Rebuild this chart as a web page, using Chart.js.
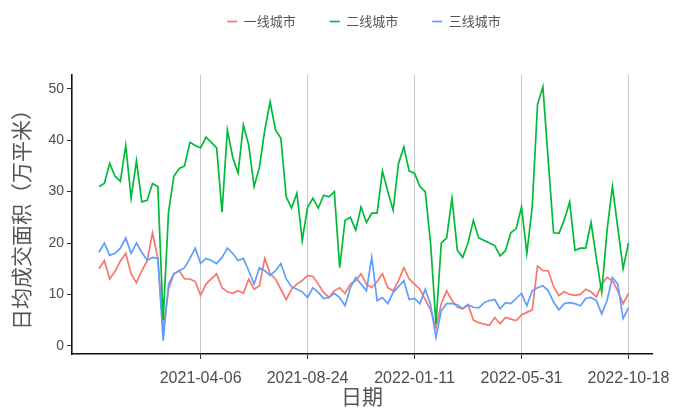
<!DOCTYPE html>
<html><head><meta charset="utf-8">
<script src="https://cdn.jsdelivr.net/npm/chart.js@4/dist/chart.umd.min.js"></script>
<style>html,body{margin:0;padding:0;background:#fff}#wrap{width:673px;height:409px;position:relative}</style>
</head><body><div id="wrap"><canvas id="c"></canvas></div>
<script>
const startDate = '2020-11-24';
const seriesNames = ['一线城市', '二线城市', '三线城市'];
const seriesColors = ['#F8766D', '#00BA38', '#619CFF'];
const tier1 = [15,16.6,13,14.5,16.5,18,14,12.3,14.6,16.5,22,17,3,11,14,14.6,13,13,12.5,9.8,
  12,13,14,11.3,10.5,10.2,10.7,10.2,13,11,11.7,17,14,13,11,9,11,12,12.7,13.7,
  13.5,12,10.4,9.4,10.7,11.3,10.2,12,12.7,14,12,11.3,12.5,14,11.3,10.7,12.7,15.2,13,12,
  11,9,7,3.5,8.2,10.7,8.8,7.5,7.2,8,5,4.5,4.2,4,5.5,4.3,5.5,5.2,4.9,6,
  6.5,7,15.5,14.6,14.6,11.5,9.8,10.5,10,9.8,10,11,10.5,9.5,12,13.3,12.7,10.7,8.2,10.2];
const tier2 = [31,31.6,35.5,33,32,39,28.7,36,28,28.3,31.6,31,5,26,33,34.5,35,39.6,39,38.5,
  40.6,39.6,38.5,26,42,36.7,33.6,43,39,31,34.8,42,47.5,42,40.4,29,26.8,29.7,20.5,27,
  28.7,26.8,29.3,29,30,15.2,24.4,25,22.5,27,24,25.8,25.8,34,30,26.4,35.5,38.7,34,33.6,
  31,30,20,4.3,20,21,28.7,18.6,17.2,20,24.4,21,20.5,20,19.5,17.5,18.5,22,22.8,27,
  18,27,47,50.4,36,22,21.9,24.5,28,18.6,19,19,24,17,10.4,22.5,31,23,15,20];
const tier3 = [18.2,20,17.6,18,19,21,18,20,18.2,16.6,17.2,17,1,12,14,14.6,15.2,17,19,16,
  17,16.6,16,17.2,19,18,16.6,17,14.6,12,15.2,14.6,13.7,14.6,16,13,11.5,11,10.5,9.4,
  11.3,10.4,9.2,9.4,10.2,9.4,7.8,11.3,13.3,12,10.7,17.2,8.8,9.4,8.2,10.4,11.5,12.7,9,9.2,
  8.2,11,8,1.6,6.8,8.2,8.2,8,7.2,8,7.5,7.4,8.4,8.8,9,7.2,8.4,8.2,9.2,10.2,
  7.8,10.7,11.3,11.7,10.7,8.5,7,8.2,8.4,8.2,7.8,9.2,9.4,8.8,6.2,8.8,13.3,12,5.3,7.4];
const xTickLabels = ['2021-04-06', '2021-08-24', '2022-01-11', '2022-05-31', '2022-10-18'];
const yTickValues = [0, 10, 20, 30, 40, 50];

// weekly category dates
const dates = [];
{
  const d0 = new Date(startDate + 'T00:00:00Z');
  for (let i = 0; i < tier2.length; i++) {
    const d = new Date(d0.getTime() + i * 7 * 86400000);
    dates.push(d.toISOString().slice(0, 10));
  }
}
const xTickIdx = xTickLabels.map(l => dates.indexOf(l));

const allSeries = [tier1, tier2, tier3];
const drawOrder = [2, 0, 1];
const datasets = allSeries.map((arr, k) => ({
  label: seriesNames[k],
  data: arr.map((v, i) => ({x: i, y: v})),
  borderColor: seriesColors[k],
  backgroundColor: seriesColors[k],
  borderWidth: 1.7,
  pointRadius: 0,
  tension: 0,
  order: drawOrder[k]
}));

const xFont = {family: '"Liberation Sans", Arial, sans-serif', size: 16};
const yFont = {family: '"Liberation Sans", Arial, sans-serif', size: 14};
const cjkFont = {family: '"Noto Sans CJK SC", sans-serif', size: 21};

const legendTweak = {
  id: 'legendTweak',
  beforeInit(chart) {
    const l = chart.legend;
    const origFit = l.fit.bind(l);
    l.fit = function () { origFit(); this.height = 75; };
    const origDraw = l.draw.bind(l);
    l.draw = function () {
      const ctx = this.ctx;
      ctx.save();
      ctx.translate(38, -19);
      origDraw();
      ctx.restore();
    };
  }
};

new Chart(document.getElementById('c'), {
  type: 'line',
  data: {datasets},
  plugins: [legendTweak],
  options: {
    responsive: true,
    maintainAspectRatio: false,
    animation: false,
    layout: {padding: {top: 0, right: 21, left: 0, bottom: 0}},
    plugins: {
      legend: {
        position: 'top',
        align: 'center',
        labels: {
          usePointStyle: true,
          pointStyle: 'line',
          pointStyleWidth: 10,
          boxWidth: 10,
          font: {family: '"Noto Sans CJK SC", sans-serif', size: 13},
          color: '#555',
          padding: 34,
          sort: (a, b) => a.datasetIndex - b.datasetIndex
        }
      },
      tooltip: {enabled: false}
    },
    scales: {
      x: {
        type: 'linear',
        min: -5.05,
        max: 103.4,
        afterBuildTicks: ax => { ax.ticks = xTickIdx.map(v => ({value: v})); },
        afterFit: sc => { sc.height = 55; sc.paddingLeft = 0; sc.paddingRight = 0; },
        ticks: {
          callback: v => dates[v],
          font: xFont,
          color: '#4d4d4d',
          maxRotation: 0,
          autoSkip: false,
          padding: 10
        },
        grid: {color: '#c8c8c8', lineWidth: 1, drawTicks: true, tickLength: 5, tickColor: '#333', tickWidth: 1},
        border: {display: true, color: '#111', width: 1.6},
        title: {display: true, text: '日期', font: cjkFont, color: '#555', padding: {top: 0, bottom: 0}}
      },
      y: {
        type: 'linear',
        min: -1.6,
        max: 52.7,
        afterBuildTicks: ax => { ax.ticks = yTickValues.map(v => ({value: v})); },
        afterFit: sc => { sc.width = 72; sc.paddingTop = 0; sc.paddingBottom = 0; },
        ticks: {font: yFont, color: '#4d4d4d', padding: 3},
        grid: {drawOnChartArea: false, drawTicks: true, tickLength: 5, tickColor: '#333', tickWidth: 1},
        border: {display: true, color: '#111', width: 1.6},
        title: {display: true, text: '日均成交面积（万平米）', font: cjkFont, color: '#555', padding: {top: 8, bottom: 0}}
      }
    }
  }
});
</script>
</body></html>
